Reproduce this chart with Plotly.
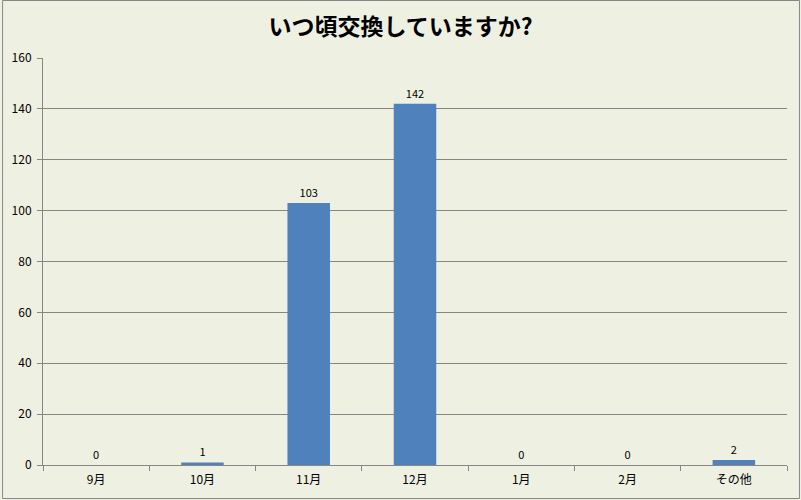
import plotly.graph_objects as go

# data
months = ["9月", "10月", "11月", "12月", "1月", "2月", "その他"]
counts = [0, 1, 103, 142, 0, 0, 2]
y_ticks = [0, 20, 40, 60, 80, 100, 120, 140, 160]

W, H = 801, 500
ml, mr, mt, mb = 41, 14, 58, 35
pw, ph = W - ml - mr, H - mt - mb

fig = go.Figure(go.Bar(
    x=months, y=counts,
    marker=dict(color="#4F81BD", line=dict(width=0)),
    text=[str(v) for v in counts], textposition="outside",
    textfont=dict(size=11, color="#000000"),
    cliponaxis=False, width=0.4,
))

fig.update_layout(
    width=W, height=H,
    margin=dict(l=ml, r=mr, t=mt, b=mb),
    paper_bgcolor="#EEF1E2", plot_bgcolor="#EEF1E2",
    font=dict(family="Noto Sans CJK JP, sans-serif", size=12, color="#000000"),
    title=dict(text="<b>いつ頃交換していますか?</b>", x=0.5, xanchor="center",
               y=1 - 27 / H, yanchor="middle",
               font=dict(size=23, color="#000000")),
    showlegend=False,
)
fig.update_xaxes(
    showline=True, linecolor="#868686", linewidth=1,
    ticks="outside", tickson="boundaries", ticklen=5, tickcolor="#868686",
    showgrid=False, ticklabelstandoff=4,
)
fig.update_yaxes(
    range=[0, 160], tickvals=y_ticks, showline=True, linecolor="#868686",
    linewidth=1, ticks="outside", ticklen=5, tickcolor="#868686",
    gridcolor="#868686", gridwidth=1, zeroline=False, ticklabelstandoff=3,
)
# outer chart border
fig.add_shape(type="rect", xref="paper", yref="paper",
              x0=-(ml - 0.5) / pw, x1=1 + (mr - 1.5) / pw,
              y0=-(mb - 1.5) / ph, y1=1 + (mt - 0.5) / ph,
              line=dict(color="#868686", width=1), layer="below")

fig.write_html("out.html", config={"displayModeBar": False},
               post_script="document.body.style.margin='0';")
